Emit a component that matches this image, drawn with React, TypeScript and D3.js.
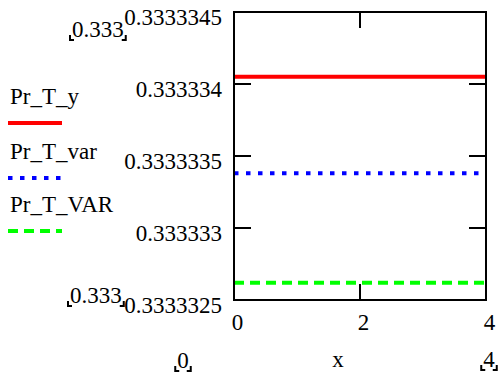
import React from "react";
import * as d3 from "d3";

const xValues = [0, 4];
const prTy = [0.33333405, 0.33333405];
const prTvar = [0.33333338, 0.33333338];
const prTVAR = [0.33333262, 0.33333262];
const seriesNames = ["Pr_T_y", "Pr_T_var", "Pr_T_VAR"];
const xTicks = [0, 2, 4];
const xTickLabels = ["0", "2", "4"];
const yTicks = [0.3333345, 0.333334, 0.3333335, 0.333333, 0.3333325];
const yTickLabels = ["0.3333345", "0.333334", "0.3333335", "0.333333", "0.3333325"];
const yLimitLabel = "0.333";
const xLimitLow = "0";
const xLimitHigh = "4";
const xAxisTitle = "x";

const W = 502;
const H = 374;
const left = 234;
const right = 486;
const top = 12;
const bottom = 300;
const FS = 23;

function T(props: any) {
  const { children, ...rest } = props;
  return (
    <text {...rest} fontFamily="Liberation Serif" fontSize={FS} fill="#000" style={{ fontFamily: "Liberation Serif", fontSize: `${FS}px` }}>
      {children}
    </text>
  );
}

function Bracketed({ x, y, text, anchor = "start" }: { x: number; y: number; text: string; anchor?: string }) {
  const w = text.split("").reduce((s, c) => s + (c === "." ? 0.25 : 0.5), 0) * FS;
  const x0 = anchor === "middle" ? x - w / 2 : x;
  const x1 = x0 + w;
  const b = y + 3;
  return (
    <g>
      <T x={x0} y={y}>{text}</T>
      <path d={`M${x0 - 2},${b - 5} V${b} H${x0 + 2}`} stroke="#000" strokeWidth={2} fill="none" />
      <path d={`M${x1 + 2},${b - 5} V${b} H${x1 - 2}`} stroke="#000" strokeWidth={2} fill="none" />
    </g>
  );
}

export default function App() {
  const x = d3.scaleLinear().domain([0, 4]).range([left, right]);
  const y = d3.scaleLinear().domain([0.3333325, 0.3333345]).range([bottom, top]);
  const line = d3
    .line<number>()
    .x((_, i) => x(xValues[i]))
    .y((d) => y(d));

  const series = [
    { name: seriesNames[0], data: prTy, color: "#ff0000", dash: undefined },
    { name: seriesNames[1], data: prTvar, color: "#0000ff", dash: "4.5 7.5" },
    { name: seriesNames[2], data: prTVAR, color: "#00ff00", dash: "10 6" },
  ];
  const legendText = [104, 159, 212];
  const legendLine = [123, 178, 231];

  return (
    <svg
      width={W}
      height={H}
      style={{ position: "absolute", left: 0, top: 0, background: "#fff" }}
    >
      {series.map((s) => (
        <path
          key={s.name}
          d={line(s.data) || ""}
          stroke={s.color}
          strokeWidth={4}
          strokeDasharray={s.dash}
          fill="none"
        />
      ))}
      <rect x={left} y={top} width={right - left} height={bottom - top} fill="none" stroke="#000" strokeWidth={2} />
      {yTicks.slice(1, -1).map((t) => (
        <g key={t}>
          <line x1={left} x2={left + 17} y1={y(t)} y2={y(t)} stroke="#000" strokeWidth={2} />
          <line x1={right} x2={right - 17} y1={y(t)} y2={y(t)} stroke="#000" strokeWidth={2} />
        </g>
      ))}
      {xTicks.slice(1, -1).map((t) => (
        <g key={t}>
          <line x1={x(t)} x2={x(t)} y1={top} y2={top + 16} stroke="#000" strokeWidth={2} />
          <line x1={x(t)} x2={x(t)} y1={bottom} y2={bottom - 16} stroke="#000" strokeWidth={2} />
        </g>
      ))}
      {yTicks.map((t, i) => (
        <T key={t} x={222} y={y(t) + 13} textAnchor="end">
          {yTickLabels[i]}
        </T>
      ))}
      {xTicks.map((t, i) => (
        <T key={t} x={x(t) + 3.5} y={330} textAnchor="middle">
          {xTickLabels[i]}
        </T>
      ))}
      <Bracketed x={72} y={37} text={yLimitLabel} />
      <Bracketed x={70} y={303} text={yLimitLabel} />
      <Bracketed x={183} y={368} text={xLimitLow} anchor="middle" />
      <Bracketed x={489} y={367} text={xLimitHigh} anchor="middle" />
      <T x={338} y={367} textAnchor="middle">
        {xAxisTitle}
      </T>
      {series.map((s, i) => (
        <g key={s.name}>
          <T x={10} y={legendText[i]}>
            {s.name}
          </T>
          <line x1={8} x2={62} y1={legendLine[i]} y2={legendLine[i]} stroke={s.color} strokeWidth={4} strokeDasharray={s.dash} />
        </g>
      ))}
    </svg>
  );
}
